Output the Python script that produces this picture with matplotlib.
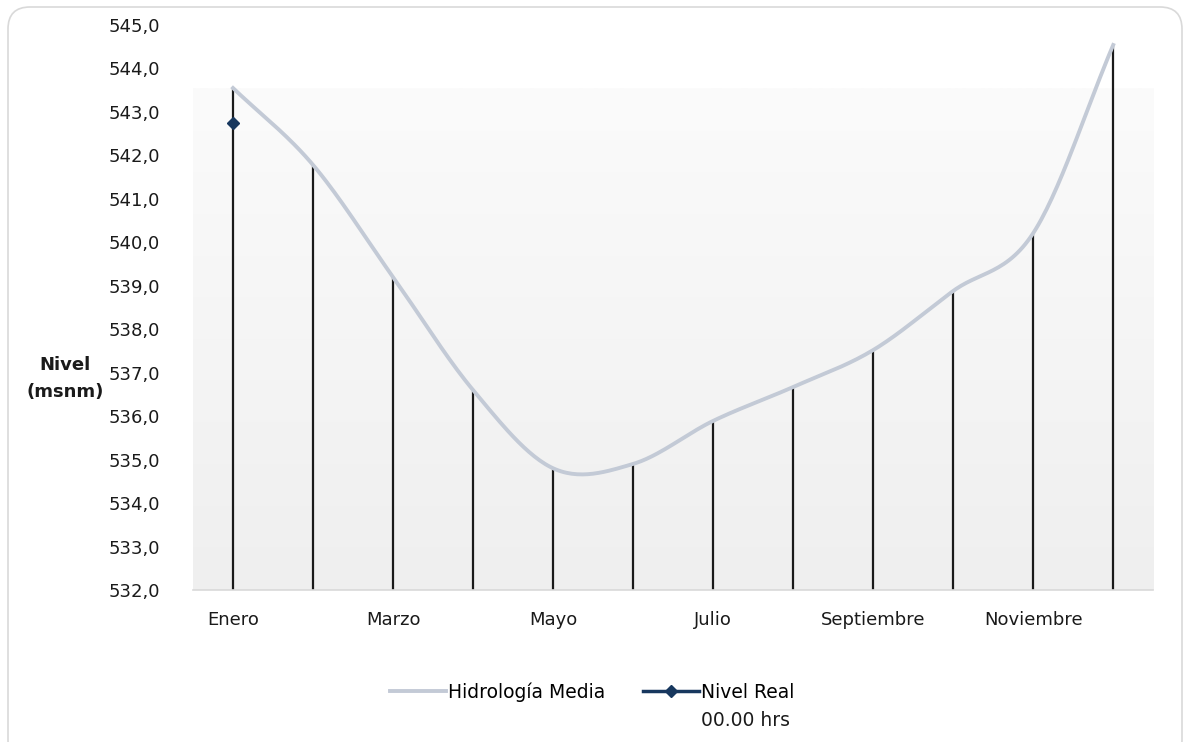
import numpy as np
import matplotlib
matplotlib.use("Agg")
import matplotlib.pyplot as plt
from matplotlib.patches import FancyBboxPatch
from matplotlib.ticker import FuncFormatter

plt.rcParams['font.family'] = ['DejaVu Sans']

meses = ["Enero", "Febrero", "Marzo", "Abril", "Mayo", "Junio", "Julio",
         "Agosto", "Septiembre", "Octubre", "Noviembre", "Diciembre"]
hidrologia_media = [543.55, 541.78, 539.2, 536.6, 534.8, 534.9, 535.89,
                    536.67, 537.52, 538.88, 540.21, 544.54]
nivel_real = [542.75]


def suavizar(y, n=30):
    # curva tipo Excel (Catmull-Rom) entre los puntos
    y = np.asarray(y, float)
    p = np.concatenate([[2 * y[0] - y[1]], y, [2 * y[-1] - y[-2]]])
    xs, ys = [], []
    for i in range(len(y) - 1):
        t = np.linspace(0, 1, n, endpoint=False)
        p0, p1, p2, p3 = p[i], p[i + 1], p[i + 2], p[i + 3]
        yy = 0.5 * ((2 * p1) + (-p0 + p2) * t + (2 * p0 - 5 * p1 + 4 * p2 - p3) * t ** 2
                    + (-p0 + 3 * p1 - 3 * p2 + p3) * t ** 3)
        xs.append(i + t)
        ys.append(yy)
    xs.append([len(y) - 1])
    ys.append([y[-1]])
    return np.concatenate(xs), np.concatenate(ys)


fig = plt.figure(figsize=(11.84, 7.42), dpi=100)
# marco redondeado (en pixeles)
borde = FancyBboxPatch((8, -20), 1174, 755, boxstyle="round,pad=0,rounding_size=22",
                       transform=None, fc="white", ec="#d9d9d9", lw=1.2, zorder=-5)
fig.patches.append(borde)

ax = fig.add_axes([0.163, 0.2049, 0.811, 0.7614])
ax.set_facecolor("none")
x = np.arange(len(meses))
ax.set_xlim(-0.5, len(meses) - 0.5)
ax.set_ylim(532, 545)

# fondo degradado del area de trazado
grad = np.linspace(1, 0, 256).reshape(-1, 1)
ax.imshow(grad, extent=[-0.5, len(meses) - 0.5, 532, 543.55], aspect="auto",
          cmap=matplotlib.colors.LinearSegmentedColormap.from_list("g", ["#efefef", "#fbfbfb"]),
          zorder=0, origin="upper")

ax.vlines(x, 532, hidrologia_media, color="#1a1a1a", lw=1.6, zorder=2)
xs, ys = suavizar(hidrologia_media)
ax.plot(xs, ys, color="#c3cad6", lw=2.8, zorder=3, label="Hidrología Media")
ax.plot(x[:len(nivel_real)], nivel_real, color="#17375e", lw=2.5, marker="D", ms=6,
        zorder=4, label="Nivel Real")

for s in ["top", "right", "left"]:
    ax.spines[s].set_visible(False)
ax.spines["bottom"].set_color("#d9d9d9")
ax.spines["bottom"].set_linewidth(1.2)

ax.set_yticks(np.arange(532, 545.1, 1))
ax.yaxis.set_major_formatter(FuncFormatter(lambda v, p: f"{v:.1f}".replace(".", ",")))
ax.set_xticks(x[::2])
ax.set_xticklabels(meses[::2])
ax.tick_params(axis="both", length=0, labelsize=13, colors="#1a1a1a")
ax.tick_params(axis="x", pad=15)
ax.tick_params(axis="y", pad=24)

fig.text(0.055, 0.49, "Nivel\n(msnm)", ha="center", va="center", fontsize=13,
         fontweight="bold", color="#1a1a1a", linespacing=1.6)

leg = fig.legend(loc="center", bbox_to_anchor=(0.5, 0.067), ncol=2, frameon=False,
                 fontsize=13.5, handlelength=3.0, columnspacing=2.0, handletextpad=0.1)
fig.canvas.draw()
t = leg.get_texts()[1]
bb = t.get_window_extent().transformed(fig.transFigure.inverted())
fig.text(bb.x0, bb.y0 - 0.012, "00.00 hrs", ha="left", va="top", fontsize=13.5, color="#1a1a1a")

fig.savefig("out.png", dpi=100)
